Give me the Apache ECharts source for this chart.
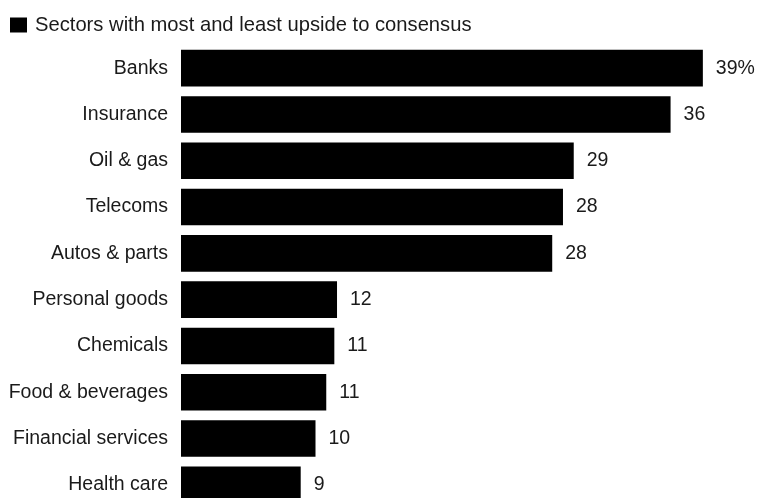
<!DOCTYPE html>
<html>
<head>
<meta charset="utf-8">
<script src="https://cdn.jsdelivr.net/npm/echarts@6/dist/echarts.min.js"></script>
<style>
html,body{margin:0;padding:0;background:#fff;overflow:hidden;}
/*底部的柱子被裁掉一半, 所以容器比窗口高一点*/
#myChart{width:757px;height:512px;}
</style>
</head>
<body>
<div id="myChart"></div>
<script>
/*数据*/
var sectors = ['Banks','Insurance','Oil & gas','Telecoms','Autos & parts','Personal goods','Chemicals','Food & beverages','Financial services','Health care'];
var upside = [38.8,36.4,29.2,28.4,27.6,11.6,11.4,10.8,10.0,8.9];
var seriesName = 'Sectors with most and least upside to consensus';

var myChart = echarts.init(document.getElementById('myChart'));
var font = '"Liberation Sans", Arial, sans-serif';

myChart.setOption({
    animation: false,
    legend: {
        data: [seriesName],
        left: 5,
        top: 10,
        icon: 'rect',
        itemWidth: 17,
        itemHeight: 15,
        itemGap: 8,
        textStyle: {color: '#1a1a1a', fontSize: 20.2, fontFamily: font, padding: [0, 0, 0, 3]}
    },
    grid: {left: 181, right: 38, top: 45, bottom: 4, containLabel: false},
    xAxis: {
        type: 'value',
        min: 0,
        max: 40,
        show: false
    },
    yAxis: {
        type: 'category',
        data: sectors,
        inverse: true,
        axisLine: {show: false},
        axisTick: {show: false},
        axisLabel: {color: '#1a1a1a', fontSize: 19.5, fontFamily: font, margin: 13}
    },
    series: [{
        name: seriesName,
        type: 'bar',
        data: upside,
        barCategoryGap: '21%',
        itemStyle: {color: '#000'},
        label: {
            show: true,
            position: 'right',
            distance: 13,
            color: '#1a1a1a',
            fontSize: 19.5,
            fontFamily: font,
            formatter: function(p){
                var v = Math.round(p.value);
                return p.dataIndex === 0 ? v + '%' : '' + v;
            }
        }
    }]
});
</script>
</body>
</html>
